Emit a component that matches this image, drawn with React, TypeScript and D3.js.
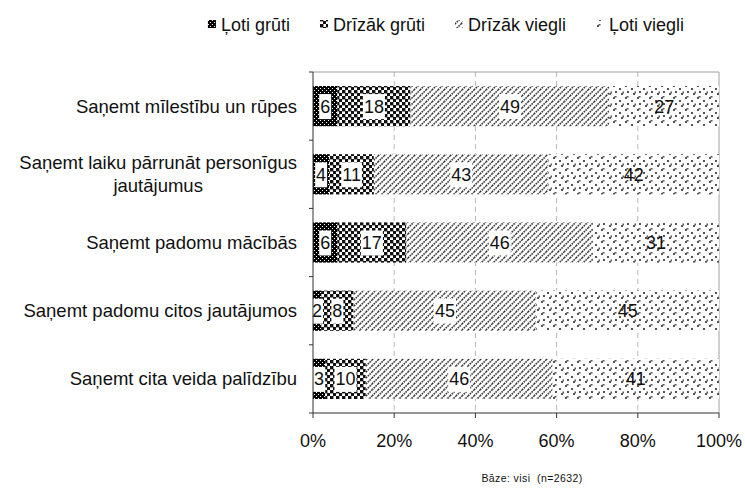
import React, { useEffect, useRef } from "react";
import * as d3 from "d3";

const categories = [
  "Saņemt mīlestību un rūpes",
  "Saņemt laiku pārrunāt personīgus\njautājumus",
  "Saņemt padomu mācībās",
  "Saņemt padomu citos jautājumos",
  "Saņemt cita veida palīdzību",
];
const seriesNames = ["Ļoti grūti", "Drīzāk grūti", "Drīzāk viegli", "Ļoti viegli"];
const lotiGruti = [6, 4, 6, 2, 3];
const drizakGruti = [18, 11, 17, 8, 10];
const drizakViegli = [49, 43, 46, 45, 46];
const lotiViegli = [27, 42, 31, 45, 41];
const xTicks = [0, 20, 40, 60, 80, 100];
const baseNote = "Bāze: visi  (n=2632)";

const FONT = "'Liberation Sans', Arial, sans-serif";

export default function App() {
  const ref = useRef<SVGSVGElement>(null);

  useEffect(() => {
    const svg = d3.select(ref.current);
    svg.selectAll("g.chart").remove();
    const g = svg.append("g").attr("class", "chart").attr("font-family", FONT).attr("fill", "#111");

    const m = { left: 313, right: 719, top: 72, bottom: 413 };
    const x = d3.scaleLinear().domain([0, 100]).range([m.left, m.right]);
    const y = d3
      .scaleBand<string>()
      .domain(categories)
      .range([m.top, m.bottom])
      .paddingInner(0.41)
      .paddingOuter(0.205);
    const step = y.step();

    const keys = ["s0", "s1", "s2", "s3"];
    const table = categories.map((c, i) => ({
      cat: c,
      s0: lotiGruti[i],
      s1: drizakGruti[i],
      s2: drizakViegli[i],
      s3: lotiViegli[i],
    }));
    const stack = d3.stack<any>().keys(keys)(table);

    // gridlines
    g.append("g")
      .selectAll("line")
      .data(xTicks.filter((t) => t > 0 && t < 100))
      .join("line")
      .attr("x1", (d) => x(d))
      .attr("x2", (d) => x(d))
      .attr("y1", m.top)
      .attr("y2", m.bottom)
      .attr("stroke", "#b8b8b8")
      .attr("stroke-dasharray", "5,4");

    // plot border top/right
    g.append("path")
      .attr("d", `M${m.left},${m.top}H${m.right}V${m.bottom}`)
      .attr("fill", "none")
      .attr("stroke", "#a0a0a0");

    // bars
    stack.forEach((layer, k) => {
      g.append("g")
        .selectAll("rect")
        .data(layer)
        .join("rect")
        .attr("x", (d: any) => x(d[0]))
        .attr("width", (d: any) => x(d[1]) - x(d[0]))
        .attr("y", (d: any) => y(d.data.cat)!)
        .attr("height", y.bandwidth())
        .attr("fill", `url(#pat${k})`);
    });

    // value labels
    stack.forEach((layer, k) => {
      layer.forEach((d: any) => {
        const cx = (x(d[0]) + x(d[1])) / 2;
        const cy = y(d.data.cat)! + y.bandwidth() / 2;
        const val = d[1] - d[0];
        const lg = g.append("g");
        const rect = lg.append("rect").attr("fill", "#fff");
        const t = lg
          .append("text")
          .attr("x", cx)
          .attr("y", cy + 6.5)
          .attr("text-anchor", "middle")
          .attr("font-size", 18)
          .attr("fill", "#111")
          .text(String(val));
        if (k < 3) {
          const bb = (t.node() as SVGTextElement).getBBox();
          rect
            .attr("x", bb.x - 1)
            .attr("y", cy - 12)
            .attr("width", bb.width + 2)
            .attr("height", 25);
        } else rect.remove();
      });
    });

    // left axis
    g.append("line")
      .attr("x1", m.left)
      .attr("x2", m.left)
      .attr("y1", m.top)
      .attr("y2", m.bottom)
      .attr("stroke", "#333");
    g.append("g")
      .selectAll("line")
      .data(d3.range(categories.length + 1))
      .join("line")
      .attr("x1", m.left - 4)
      .attr("x2", m.left)
      .attr("y1", (i) => m.top + i * step)
      .attr("y2", (i) => m.top + i * step)
      .attr("stroke", "#333");

    // bottom axis
    g.append("line")
      .attr("x1", m.left)
      .attr("x2", m.right)
      .attr("y1", m.bottom)
      .attr("y2", m.bottom)
      .attr("stroke", "#333");
    g.append("g")
      .selectAll("line")
      .data(xTicks)
      .join("line")
      .attr("x1", (d) => x(d))
      .attr("x2", (d) => x(d))
      .attr("y1", m.bottom)
      .attr("y2", m.bottom + 5)
      .attr("stroke", "#333");
    g.append("g")
      .selectAll("text")
      .data(xTicks)
      .join("text")
      .attr("x", (d) => x(d))
      .attr("y", m.bottom + 34)
      .attr("text-anchor", "middle")
      .attr("font-size", 18)
      .text((d) => `${d}%`);

    // category labels
    const labelRight = 297;
    categories.forEach((c) => {
      const lines = c.split("\n");
      const cy = y(c)! + y.bandwidth() / 2;
      const lh = 23;
      const tg = g.append("g");
      const texts = lines.map((ln, i) =>
        tg
          .append("text")
          .attr("y", cy + 6.5 - ((lines.length - 1) * lh) / 2 + i * lh)
          .attr("font-size", 18.5)
          .text(ln)
      );
      if (lines.length === 1) {
        texts[0].attr("x", labelRight).attr("text-anchor", "end");
      } else {
        const maxW = d3.max(texts, (t) => (t.node() as SVGTextElement).getComputedTextLength())!;
        texts.forEach((t) => t.attr("x", labelRight - maxW / 2).attr("text-anchor", "middle"));
      }
    });

    // legend
    const lgG = g.append("g");
    const items = seriesNames.map((n, k) => {
      const it = lgG.append("g");
      it.append("rect")
        .attr("x", 0)
        .attr("y", -4)
        .attr("width", 8)
        .attr("height", 8)
        .attr("fill", `url(#pat${k})`);
      const t = it.append("text").attr("x", 13).attr("y", 6.5).attr("font-size", 18).text(n);
      const w = 13 + (t.node() as SVGTextElement).getComputedTextLength();
      return { it, w };
    });
    const gap = 30;
    const total = d3.sum(items, (d) => d.w) + gap * (items.length - 1);
    let cx = 446 - total / 2;
    items.forEach((d) => {
      d.it.attr("transform", `translate(${cx},24)`);
      cx += d.w + gap;
    });

    // footer
    g.append("text")
      .attr("x", 532)
      .attr("y", 482)
      .attr("text-anchor", "middle")
      .attr("font-size", 10.5)
      .attr("letter-spacing", 0.4)
      .style("white-space", "pre")
      .text(baseNote);
  }, []);

  return (
    <svg
      ref={ref}
      width={745}
      height={491}
      style={{ position: "absolute", left: 0, top: 0, background: "#fff" }}
    >
      <defs>
        <pattern id="pat0" width={4} height={4} patternUnits="userSpaceOnUse">
          <rect width={4} height={4} fill="#000" />
          <rect x={0} y={0} width={1} height={1} fill="#fff" />
          <rect x={2} y={2} width={1} height={1} fill="#fff" />
        </pattern>
        <pattern id="pat1" width={6} height={6} patternUnits="userSpaceOnUse">
          <rect width={6} height={6} fill="#fff" />
          <rect x={0} y={0} width={3.4} height={3.4} fill="#111" />
          <rect x={3} y={3} width={3.4} height={3.4} fill="#111" />
        </pattern>
        <pattern id="pat2" width={6} height={6} patternUnits="userSpaceOnUse">
          <rect width={6} height={6} fill="#fff" />
          <path
            d="M0,6 L6,0 M-1,1 L1,-1 M5,7 L7,5"
            stroke="#333"
            strokeWidth={1.6}
            strokeDasharray="1.6,0.9"
          />
        </pattern>
        <pattern id="pat3" width={12} height={12} patternUnits="userSpaceOnUse">
          <rect width={12} height={12} fill="#fff" />
          <rect x={1} y={1} width={2} height={2} fill="#555" />
          <rect x={2.5} y={-0.5} width={2} height={2} fill="#555" />
          <rect x={7} y={4} width={2} height={2} fill="#555" />
          <rect x={3} y={7} width={2} height={2} fill="#555" />
          <rect x={9} y={9} width={2} height={2} fill="#555" />
          <rect x={10.5} y={7.5} width={2} height={2} fill="#555" />
        </pattern>
      </defs>
    </svg>
  );
}
